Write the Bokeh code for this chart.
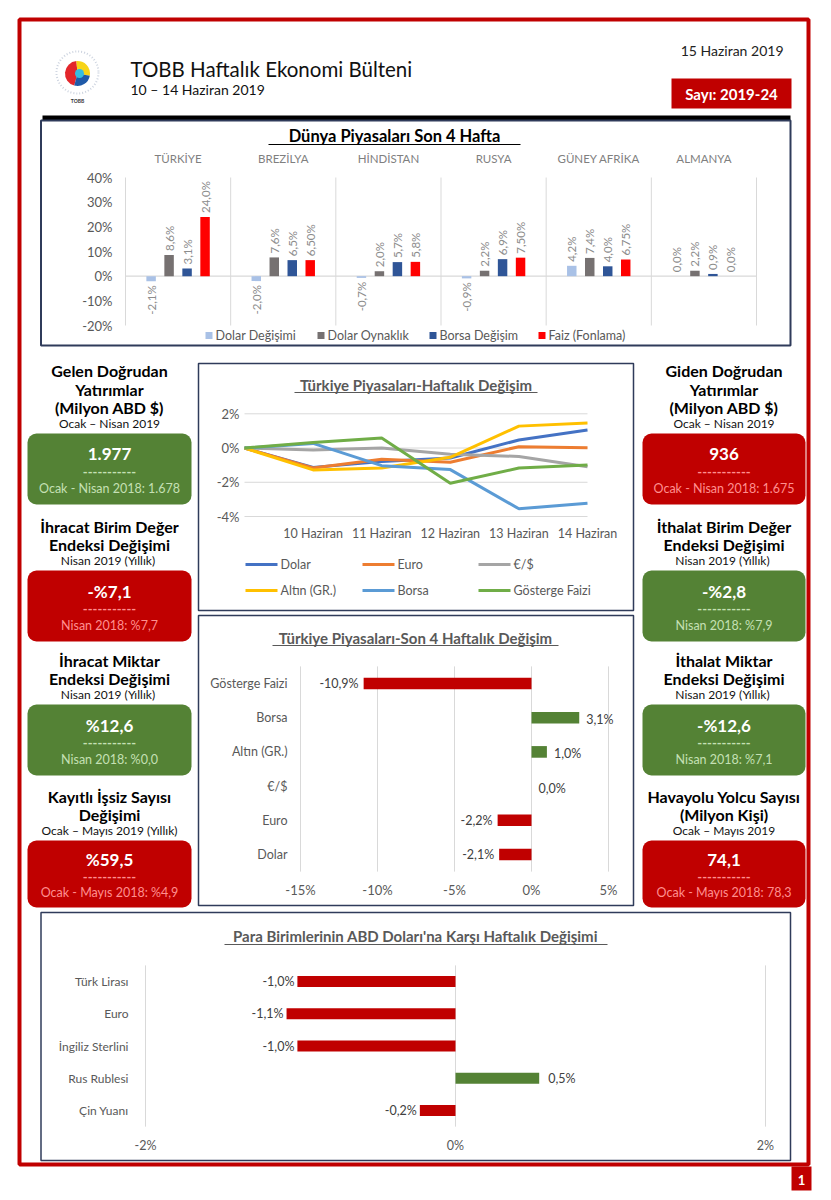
import math
from bokeh.plotting import figure
from bokeh.models import Range1d
from bokeh.core.properties import value
from bokeh.embed import file_html
from bokeh.resources import INLINE

# ---------------- DATA ----------------
countries = ["TÜRKİYE", "BREZİLYA", "HİNDİSTAN", "RUSYA", "GÜNEY AFRİKA", "ALMANYA"]
world_series = ["Dolar Değişimi", "Dolar Oynaklık", "Borsa Değişim", "Faiz (Fonlama)"]
dolar_degisimi = [-2.1, -2.0, -0.7, -0.9, 4.2, 0.0]
dolar_oynaklik = [8.6, 7.6, 2.0, 2.2, 7.4, 2.2]
borsa_degisim = [3.1, 6.5, 5.7, 6.9, 4.0, 0.9]
faiz_fonlama = [24.0, 6.5, 5.8, 7.5, 6.75, 0.0]
faiz_labels = ["24,0%", "6,50%", "5,8%", "7,50%", "6,75%", "0,0%"]
world_ticks = [-20, -10, 0, 10, 20, 30, 40]

days = ["", "10 Haziran", "11 Haziran", "12 Haziran", "13 Haziran", "14 Haziran"]
weekly_series = ["Dolar", "Euro", "€/$", "Altın (GR.)", "Borsa", "Gösterge Faizi"]
w_dolar = [0, -1.13, -0.78, -0.58, 0.47, 1.05]
w_euro = [0, -1.17, -0.66, -0.83, 0.08, 0.02]
w_eurusd = [0, -0.12, 0.0, -0.37, -0.49, -1.09]
w_altin = [0, -1.28, -1.17, -0.54, 1.28, 1.46]
w_borsa = [0, 0.27, -1.03, -1.26, -3.55, -3.22]
w_faiz = [0, 0.33, 0.58, -2.06, -1.17, -0.99]
weekly_ticks = [-4, -2, 0, 2]

tr4_items = ["Dolar", "Euro", "€/$", "Altın (GR.)", "Borsa", "Gösterge Faizi"]
tr4_change = [-2.1, -2.2, 0.0, 1.0, 3.1, -10.9]
tr4_ticks = [-15, -10, -5, 0, 5]

currencies = ["Çin Yuanı", "Rus Rublesi", "İngiliz Sterlini", "Euro", "Türk Lirası"]
cur_change = [-0.23, 0.54, -1.02, -1.09, -1.02]
cur_ticks = [-2, 0, 2]

left_titles = [["Gelen Doğrudan", "Yatırımlar", "(Milyon ABD $)"],
               ["İhracat Birim Değer", "Endeksi Değişimi"],
               ["İhracat Miktar", "Endeksi Değişimi"],
               ["Kayıtlı İşsiz Sayısı", "Değişimi"]]
left_periods = ["Ocak – Nisan 2019", "Nisan 2019  (Yıllık)", "Nisan 2019  (Yıllık)", "Ocak – Mayıs 2019 (Yıllık)"]
left_values = ["1.977", "-%7,1", "%12,6", "%59,5"]
left_prev = ["Ocak - Nisan 2018: 1.678", "Nisan 2018: %7,7", "Nisan 2018: %0,0", "Ocak - Mayıs 2018: %4,9"]

right_titles = [["Giden Doğrudan", "Yatırımlar", "(Milyon ABD $)"],
                ["İthalat Birim Değer", "Endeksi Değişimi"],
                ["İthalat Miktar", "Endeksi Değişimi"],
                ["Havayolu Yolcu Sayısı", "(Milyon Kişi)"]]
right_periods = ["Ocak – Nisan 2019", "Nisan 2019  (Yıllık)", "Nisan 2019  (Yıllık)", "Ocak – Mayıs 2019"]
right_values = ["936", "-%2,8", "-%12,6", "74,1"]
right_prev = ["Ocak - Nisan 2018: 1.675", "Nisan 2018: %7,9", "Nisan 2018: %7,1", "Ocak - Mayıs 2018: 78,3"]

# ---------------- STYLE ----------------
FONT = "Lato"
RED = "#C00000"
GREEN = "#548235"
NAVY = "#2F3B5A"
GRID = "#D9D9D9"
LABEL = "#595959"
left_fill = [GREEN, RED, GREEN, RED]
right_fill = [RED, GREEN, GREEN, RED]
world_colors = ["#A9C1E6", "#767171", "#2F5597", "#FF0000"]
weekly_colors = ["#4472C4", "#ED7D31", "#A5A5A5", "#FFC000", "#5B9BD5", "#70AD47"]


def pct(v):
    return f"{v:.1f}%".replace(".", ",")


p = figure(width=815, height=1192, x_range=Range1d(0, 815), y_range=Range1d(1192, 0),
           output_backend="svg", toolbar_location=None, min_border=0,
           x_axis_location=None, y_axis_location=None)
p.grid.visible = False
p.outline_line_color = None
p.background_fill_color = "white"
p.border_fill_color = "white"


def txt(g, x, y, s, size, color="#000000", bold=False, align="center", angle=0,
        x_offset=0, y_offset=0):
    n = len(s) if isinstance(s, list) else 1
    xs = x if isinstance(x, list) else [x] * n
    ys = y if isinstance(y, list) else [y] * n
    ss = s if isinstance(s, list) else [s]
    g.text(x=xs, y=ys, text=ss, text_font=value(FONT), text_font_size=f"{size}px",
           text_color=color, text_font_style="bold" if bold else "normal",
           text_align=align, text_baseline="middle", angle=angle,
           x_offset=x_offset, y_offset=y_offset)


def box(x0, x1, y0, y1, color=NAVY, width=1.5):
    p.quad(left=x0, right=x1, top=y0, bottom=y1, fill_color=None,
           line_color=color, line_width=width)


# ---------------- PAGE FRAME ----------------
box(19, 808, 19, 1164, color=RED, width=4)
p.quad(left=791, right=811, top=1166, bottom=1190, fill_color=RED, line_color=None)
txt(p, 801, 1179, "1", 13, color="white", bold=True)

# ---------------- HEADER ----------------
p.wedge(x=77, y=73, radius=12.5, start_angle=math.radians(95), end_angle=math.radians(255),
        fill_color="#E3262B", line_color=None)
p.wedge(x=77, y=73, radius=12.5, start_angle=math.radians(-10), end_angle=math.radians(95),
        fill_color="#F7D417", line_color=None)
p.wedge(x=77, y=73, radius=12.5, start_angle=math.radians(255), end_angle=math.radians(350),
        fill_color="#1F5AA8", line_color=None)
p.scatter(x=[79], y=[73], size=9, fill_color="#35BDE0", line_color=None)
p.scatter(x=[77], y=[72], size=42, fill_color=None, line_color="#9AA7C0", line_width=2, line_alpha=0.5, line_dash="1 2")
txt(p, 77, 100, "TOBB", 5, color="#333333", bold=True)

txt(p, 130, 68, "TOBB Haftalık Ekonomi Bülteni", 20.5, color="#111111", align="left")
txt(p, 130, 89, "10 – 14 Haziran 2019", 14, color="#111111", align="left")
txt(p, 783, 50, "15 Haziran 2019", 14, color="#222222", align="right")
p.quad(left=671, right=791, top=78, bottom=108, fill_color=RED, line_color=None)
txt(p, 731, 93, "Sayı: 2019-24", 15, color="white", bold=True)
p.quad(left=42, right=790, top=115, bottom=120, fill_color="black", line_color=None)

# ---------------- WORLD MARKETS CHART ----------------
box(40.5, 790, 120, 345, width=2)
txt(p, 394, 135, "Dünya Piyasaları Son 4 Hafta", 16.5, color="#000000", bold=True)
p.segment(x0=268, x1=520, y0=144, y1=144, line_color="black", line_width=1.2)

wc = p.subplot(x_source=Range1d(-0.5, len(countries) - 0.5), y_source=Range1d(-20, 40),
               x_target=Range1d(125, 756), y_target=Range1d(325, 177))
ng = len(countries)
wc.segment(x0=[i - 0.5 for i in range(ng + 1)], x1=[i - 0.5 for i in range(ng + 1)],
           y0=[world_ticks[0]] * (ng + 1), y1=[world_ticks[-1]] * (ng + 1),
           line_color=GRID, line_width=1)
wc.segment(x0=[-0.5], x1=[ng - 0.5], y0=[0], y1=[0], line_color=GRID, line_width=1.2)
txt(wc, [-0.5] * len(world_ticks), world_ticks, [f"{t}%" for t in world_ticks], 13,
    color=LABEL, align="right", x_offset=-13)
txt(wc, list(range(ng)), [world_ticks[-1]] * ng, countries, 11.5, color="#7F7F7F", y_offset=-19)

world_vals = [dolar_degisimi, dolar_oynaklik, borsa_degisim, faiz_fonlama]
world_lbls = [[pct(v) for v in dolar_degisimi], [pct(v) for v in dolar_oynaklik],
              [pct(v) for v in borsa_degisim], faiz_labels]
for k, vals in enumerate(world_vals):
    xs = [i + (k - 1.5) * 0.171 for i in range(ng)]
    wc.vbar(x=xs, top=vals, bottom=0, width=0.09, fill_color=world_colors[k], line_color=None)
    pos = [j for j, v in enumerate(vals) if v >= 0]
    neg = [j for j, v in enumerate(vals) if v < 0]
    if pos:
        txt(wc, [xs[j] for j in pos], [vals[j] for j in pos], [world_lbls[k][j] for j in pos],
            11.5, color="#8C8C8C", align="left", angle=math.pi / 2, y_offset=-4)
    if neg:
        txt(wc, [xs[j] for j in neg], [vals[j] for j in neg], [world_lbls[k][j] for j in neg],
            11.5, color="#8C8C8C", align="right", angle=math.pi / 2, y_offset=4)

leg_x = [205, 317, 429, 538]
for k, name in enumerate(world_series):
    p.quad(left=leg_x[k], right=leg_x[k] + 7, top=331.5, bottom=338.5,
           fill_color=world_colors[k], line_color=None)
    txt(p, leg_x[k] + 10, 335, name, 12.5, color=LABEL, align="left")

# ---------------- WEEKLY LINE CHART ----------------
box(198, 633, 363, 610)
txt(p, 415.5, 384, "Türkiye Piyasaları-Haftalık Değişim", 15, color=LABEL, bold=True)
p.segment(x0=294, x1=537, y0=392, y1=392, line_color=LABEL, line_width=1.2)

nd = len(days) - 1
lc = p.subplot(x_source=Range1d(0, nd), y_source=Range1d(weekly_ticks[0], weekly_ticks[-1]),
               x_target=Range1d(244, 587), y_target=Range1d(516, 413.3))
lc.segment(x0=[0] * len(weekly_ticks), x1=[nd] * len(weekly_ticks), y0=weekly_ticks, y1=weekly_ticks,
           line_color=GRID, line_width=1)
txt(lc, [0] * len(weekly_ticks), weekly_ticks, [f"{t}%" for t in weekly_ticks], 13,
    color=LABEL, align="right", x_offset=-5)
txt(lc, list(range(len(days))), [weekly_ticks[0]] * len(days), days, 12.5, color=LABEL, y_offset=17)
for k, vals in enumerate([w_dolar, w_euro, w_eurusd, w_altin, w_borsa, w_faiz]):
    lc.line(x=list(range(len(days))), y=vals, line_color=weekly_colors[k], line_width=3)

lx = [245, 362, 478]
ly = [564, 590]
for k, name in enumerate(weekly_series):
    x0 = lx[k % 3]
    y0 = ly[k // 3]
    p.segment(x0=x0, x1=x0 + 32, y0=y0, y1=y0, line_color=weekly_colors[k], line_width=3)
    txt(p, x0 + 35, y0, name, 12.5, color=LABEL, align="left")

# ---------------- 4-WEEK BAR CHART ----------------
box(198, 633, 615, 905)
txt(p, 415, 637, "Türkiye Piyasaları-Son 4 Haftalık Değişim", 15, color=LABEL, bold=True)
p.segment(x0=272, x1=558, y0=645, y1=645, line_color=LABEL, line_width=1.2)

ni = len(tr4_items)
bc = p.subplot(x_source=Range1d(tr4_ticks[0], tr4_ticks[-1]), y_source=Range1d(0, ni - 1),
               x_target=Range1d(300, 608), y_target=Range1d(854, 683))
bc.segment(x0=tr4_ticks, x1=tr4_ticks, y0=[-0.5] * len(tr4_ticks), y1=[ni - 0.5] * len(tr4_ticks),
           line_color=GRID, line_width=1)
txt(bc, tr4_ticks, [-0.5] * len(tr4_ticks), [f"{t}%" for t in tr4_ticks], 13, color=LABEL, y_offset=18)
txt(bc, [tr4_ticks[0]] * ni, list(range(ni)), tr4_items, 12.5, color=LABEL, align="right", x_offset=-13)
bc.hbar(y=list(range(ni)), left=0, right=tr4_change, height=0.34,
        fill_color=[GREEN if v > 0 else RED for v in tr4_change], line_color=None)
neg = [j for j, v in enumerate(tr4_change) if v < 0]
pos = [j for j, v in enumerate(tr4_change) if v >= 0]
txt(bc, [tr4_change[j] for j in neg], neg, [pct(tr4_change[j]) for j in neg], 12.5,
    color="#404040", align="right", x_offset=-5)
txt(bc, [tr4_change[j] for j in pos], pos, [pct(tr4_change[j]) for j in pos], 12.5,
    color="#404040", align="left", x_offset=7, y_offset=2)

# ---------------- CURRENCY BAR CHART ----------------
box(40.5, 790, 912, 1160)
txt(p, 415, 935, "Para Birimlerinin ABD Doları'na Karşı Haftalık Değişimi", 15, color=LABEL, bold=True)
p.segment(x0=224, x1=607, y0=944, y1=944, line_color=LABEL, line_width=1.2)

nc = len(currencies)
cc = p.subplot(x_source=Range1d(cur_ticks[0], cur_ticks[-1]), y_source=Range1d(0, nc - 1),
               x_target=Range1d(145, 765), y_target=Range1d(1110, 981))
cc.segment(x0=cur_ticks, x1=cur_ticks, y0=[-0.5] * len(cur_ticks), y1=[nc - 0.5] * len(cur_ticks),
           line_color=GRID, line_width=1)
txt(cc, cur_ticks, [-0.5] * len(cur_ticks), [f"{t}%" for t in cur_ticks], 12.5, color=LABEL, y_offset=19)
txt(cc, [cur_ticks[0]] * nc, list(range(nc)), currencies, 12, color=LABEL, align="right", x_offset=-17)
cc.hbar(y=list(range(nc)), left=0, right=cur_change, height=0.34,
        fill_color=[GREEN if v > 0 else RED for v in cur_change], line_color=None)
neg = [j for j, v in enumerate(cur_change) if v < 0]
pos = [j for j, v in enumerate(cur_change) if v >= 0]
txt(cc, [cur_change[j] for j in neg], neg, [pct(cur_change[j]) for j in neg], 12.5,
    color="#404040", align="right", x_offset=-3)
txt(cc, [cur_change[j] for j in pos], pos, [pct(cur_change[j]) for j in pos], 12.5,
    color="#404040", align="left", x_offset=9)

# ---------------- KPI PANELS ----------------
box_tops = [433, 570, 704, 840]
box_bots = [504, 641, 775, 907]


def panel(x0, x1, top, bot, titles, period, val, prev, fill):
    cx = (x0 + x1) / 2
    p.quad(left=x0, right=x1, top=top, bottom=bot, fill_color=fill, line_color=None, border_radius=9)
    py = top - 10
    txt(p, cx, py, period, 12, color="#111111")
    for j, line in enumerate(reversed(titles)):
        txt(p, cx, py - 16 - 18.5 * j, line, 16, color="#000000", bold=True)
    h = bot - top
    light = "#C5E0B4" if fill == GREEN else "#FF8F8F"
    txt(p, cx, top + 0.29 * h, val, 17, color="white", bold=True)
    txt(p, cx, top + 0.54 * h, "-----------", 13, color=light, bold=True)
    txt(p, cx, top + 0.77 * h, prev, 12.5, color=light)


for i in range(4):
    panel(27, 191, box_tops[i], box_bots[i], left_titles[i], left_periods[i], left_values[i],
          left_prev[i], left_fill[i])
    panel(642, 805, box_tops[i], box_bots[i], right_titles[i], right_periods[i], right_values[i],
          right_prev[i], right_fill[i])

open("out.html", "w").write(file_html(p, INLINE))
